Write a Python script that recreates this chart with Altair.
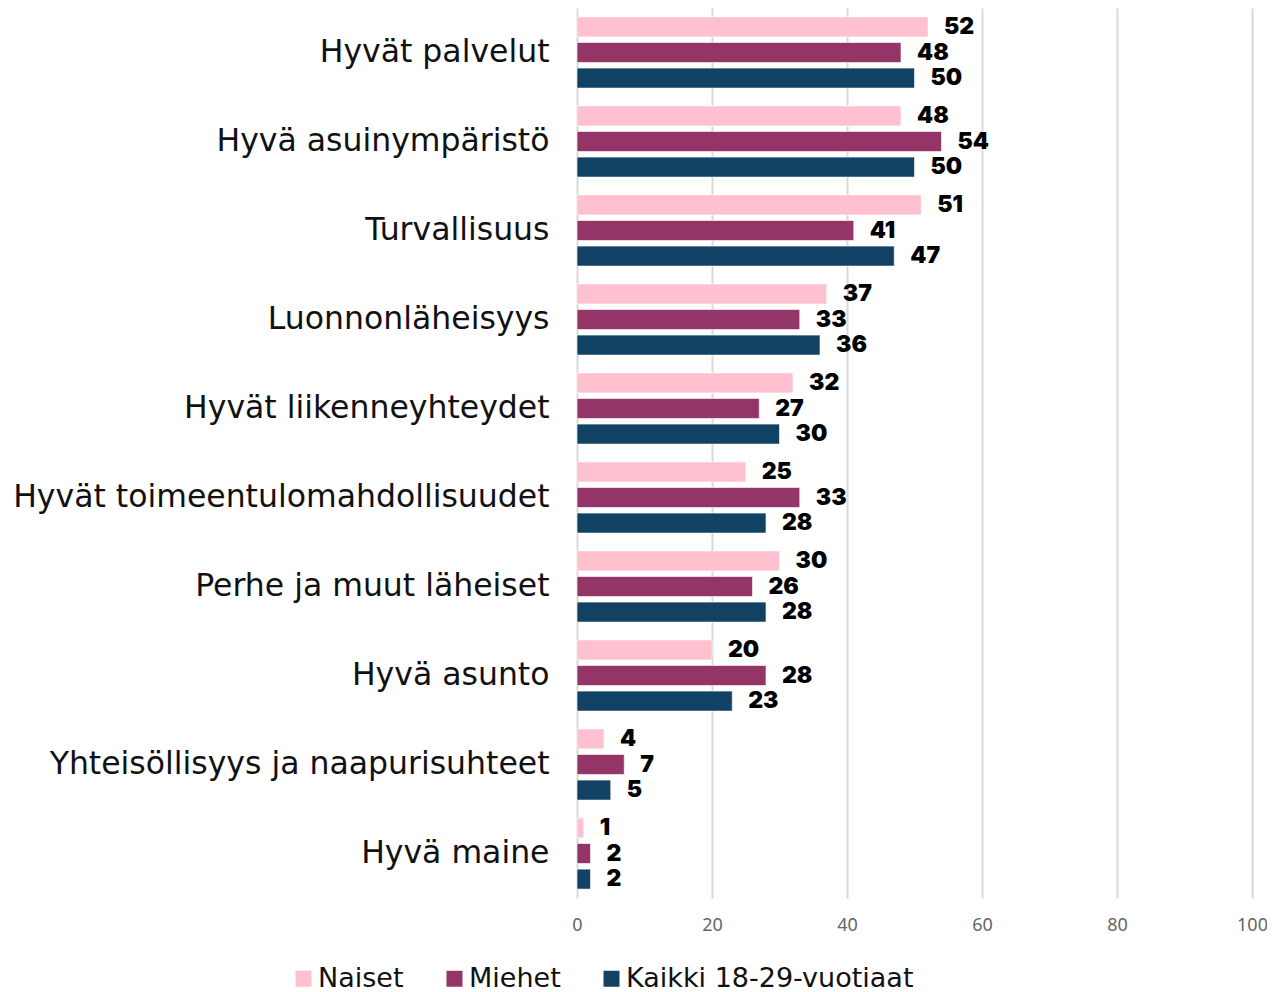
import altair as alt
import pandas as pd

categories = ["Hyvät palvelut", "Hyvä asuinympäristö", "Turvallisuus", "Luonnonläheisyys",
              "Hyvät liikenneyhteydet", "Hyvät toimeentulomahdollisuudet", "Perhe ja muut läheiset",
              "Hyvä asunto", "Yhteisöllisyys ja naapurisuhteet", "Hyvä maine"]
series = ["Naiset", "Miehet", "Kaikki 18-29-vuotiaat"]
naiset = [52, 48, 51, 37, 32, 25, 30, 20, 4, 1]
miehet = [48, 54, 41, 33, 27, 33, 26, 28, 7, 2]
kaikki = [50, 50, 47, 36, 30, 28, 28, 23, 5, 2]
colors = ["#FFC0CF", "#933566", "#124263"]

rows = []
for i, c in enumerate(categories):
    for s, vals in zip(series, [naiset, miehet, kaikki]):
        rows.append({"kategoria": c, "ryhmä": s, "arvo": vals[i]})
df = pd.DataFrame(rows)

y = alt.Y("kategoria:N", sort=categories, title=None,
          scale=alt.Scale(paddingInner=0.2, paddingOuter=0.1),
          axis=alt.Axis(labelFontSize=31.5, labelFont="DejaVu Sans", labelColor="#111111",
                        labelPadding=28, ticks=False, domain=False, labelLimit=700))
yoff = alt.YOffset("ryhmä:N", sort=series, scale=alt.Scale(paddingInner=0.22, paddingOuter=0))
x = alt.X("arvo:Q", title=None, scale=alt.Scale(domain=[0, 100], nice=False),
          axis=alt.Axis(values=[0, 20, 40, 60, 80, 100], labelFontSize=18, labelColor="#666666",
                        labelFont="Noto Sans", labelPadding=18, ticks=False, domain=False,
                        labelFlush=False, gridColor="#d9d9d9", gridWidth=2))
color = alt.Color("ryhmä:N", sort=series, title=None,
                  scale=alt.Scale(domain=series, range=colors),
                  legend=alt.Legend(orient="none", direction="horizontal", legendX=-287, legendY=957,
                                    symbolType="square", symbolSize=256, symbolStrokeWidth=0,
                                    labelFontSize=27, labelFont="DejaVu Sans", labelColor="#111111",
                                    columnPadding=37, symbolOffset=0, labelOffset=1, labelLimit=500))

bars = alt.Chart(df).mark_bar(stroke="white", strokeWidth=1, strokeOpacity=0.6).encode(
    y=y, yOffset=yoff, x=x, color=color)
text = alt.Chart(df).mark_text(align="left", baseline="middle", dx=16, fontSize=23,
                               fontWeight=900, font="Inter", color="black").encode(
    y=alt.Y("kategoria:N", sort=categories), yOffset=yoff, x="arvo:Q", text="arvo:Q")

chart = (bars + text).properties(
    width=675, height=890,
    autosize=alt.AutoSizeParams(type="none"),
    padding={"left": 569, "top": 0, "right": 15, "bottom": 94},
).configure_view(stroke=None)

chart.save("out.html", embed_options={"renderer": "svg", "actions": False})
